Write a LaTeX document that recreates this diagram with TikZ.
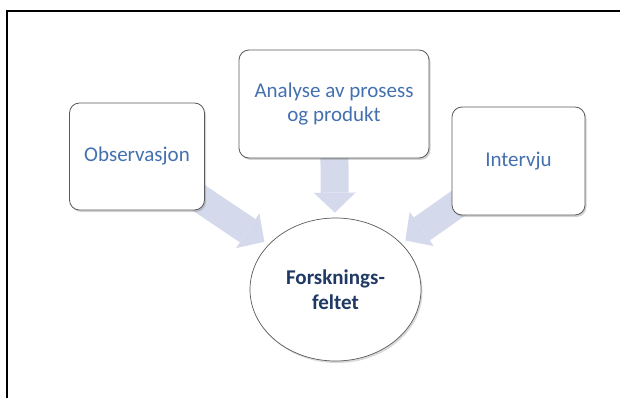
\documentclass[tikz,border=0pt]{standalone}
\usepackage{fontspec}
\setmainfont{Carlito}
\usetikzlibrary{positioning,shapes.geometric,arrows.meta,shadows}
\pgfdeclarelayer{background layer}
\pgfsetlayers{background layer,main}
\definecolor{boxtext}{HTML}{4470B0}
\definecolor{felttext}{HTML}{1F3864}
\definecolor{pilfarge}{HTML}{D4DAEB}
\definecolor{kant}{HTML}{5A5A5A}

\begin{document}
\begin{tikzpicture}[x=1pt,y=-1pt]
\tikzstyle{metode}=[draw=kant,line width=0.8pt,rounded corners=10pt,fill=white,text=boxtext,align=center,inner sep=0pt,font=\fontsize{21}{24.5}\selectfont,drop shadow={shadow xshift=1.5pt,shadow yshift=-2pt,opacity=0.35}]
\tikzstyle{felt}=[ellipse,draw=kant,line width=0.7pt,fill=white,text=felttext,align=center,inner sep=0pt,font=\fontsize{21}{25}\selectfont\bfseries,minimum width=171pt,minimum height=143pt,drop shadow={shadow xshift=1.5pt,shadow yshift=-2pt,opacity=0.3}]
\tikzstyle{bigarrow}=[draw=pilfarge,line width=28pt,-{Triangle[width=42pt,length=20pt,line width=0pt]},shorten >=5pt]
\useasboundingbox (0,0) rectangle (620,398);
\node [metode,minimum width=135pt,minimum height=107pt] at (137,156.5) (obs) {Observasjon};
\node [metode,minimum width=190pt,minimum height=108pt] at (334,104) (ana) {Analyse av prosess\\og produkt};
\node [metode,minimum width=133pt,minimum height=108pt] at (518.5,161) (int) {Intervju};
\node [felt] at (335.5,289.5) (forsk) {Forsknings-\\feltet};
\begin{pgfonlayer}{background layer}
\draw [bigarrow] (obs.center) -- (forsk);
\draw [bigarrow] (ana.center) -- (forsk);
\draw [bigarrow] (int.center) -- (forsk);
\end{pgfonlayer}
\draw [line width=2pt] (7,398) -- (7,10.5);
\draw [line width=1.3pt] (6,11) -- (620,11);
\end{tikzpicture}
\end{document}
